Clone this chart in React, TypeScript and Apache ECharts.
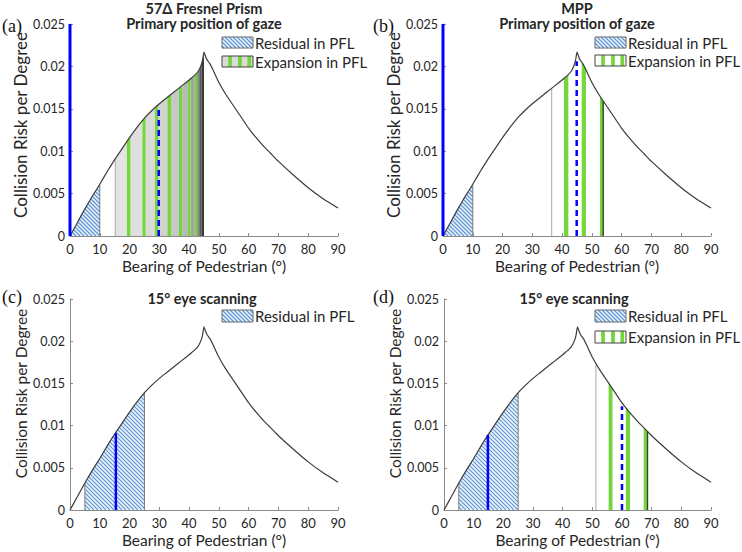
import { useEffect, useRef } from 'react';
import * as echarts from 'echarts';

// ---------- data ----------
const CURVE_X = [0, 2.5, 5, 7.5, 10, 12.5, 15, 17.5, 20, 22.5, 25, 27.5, 30, 32.5, 35, 37.5, 40, 41, 42, 43, 43.5, 44, 44.5, 45, 45.5, 46, 47, 48, 50, 52.5, 55, 57.5, 60, 62.5, 65, 67.5, 70, 75, 80, 85, 90];
const CURVE_Y = [0, 0.0016, 0.0032, 0.0047, 0.0061, 0.0076, 0.009, 0.0103, 0.0116, 0.0128, 0.0139, 0.0148, 0.0156, 0.0163, 0.017, 0.0177, 0.0184, 0.0187, 0.019, 0.0194, 0.0197, 0.0201, 0.0207, 0.0217, 0.0212, 0.0208, 0.0203, 0.0196, 0.0181, 0.0166, 0.0153, 0.014, 0.0127, 0.0116, 0.0106, 0.0097, 0.0088, 0.0072, 0.0057, 0.0044, 0.0033];

const RESIDUAL_A = [[0, 10]];
const RESIDUAL_B = [[0, 10]];
const RESIDUAL_C = [[5, 25]];
const RESIDUAL_D = [[5, 25]];

const PRISM_BANDS_A = [[15.2, 19.1], [20.3, 24.3], [25.4, 28.5], [29.6, 32.7], [34.0, 36.6], [37.7, 39.6], [40.5, 41.9], [42.7, 43.4], [43.4, 44.2], [44.2, 45]];
const STRIPES_A = [[19.1, 20.3], [24.3, 25.4], [28.5, 29.6], [32.7, 34.0], [36.6, 37.7], [39.6, 40.5], [41.9, 42.7]];
const STRIPES_B = [[40.6, 42.1], [46.6, 48.0], [52.7, 53.8]];
const STRIPES_D = [[55.5, 56.8], [61.3, 62.7], [67.3, 68.6]];

const EDGES_A = [15.2];
const EDGES_B = [36.5, 53.8];
const EDGES_D = [51.2, 68.6];

const AXIS_MARK_AB = [[0, 0], [0, 0.025]];
const GAZE_A = [[29.8, 0], [29.8, 0.0149]];
const GAZE_B = [[44.9, 0], [44.9, 0.0206]];
const GAZE_D = [[60, 0], [60, 0.0123]];
const FIX_C = [[15.4, 0], [15.4, 0.0091]];
const FIX_D = [[14.8, 0], [14.8, 0.0089]];

const X_TICK_STEP = 10;
const Y_TICK_STEP = 0.005;

const TITLE_A = '57Δ Fresnel Prism\nPrimary position of gaze';
const TITLE_B = 'MPP\nPrimary position of gaze';
const TITLE_CD = '15° eye scanning';
const LEGEND_RESIDUAL = 'Residual in PFL';
const LEGEND_EXPANSION = 'Expansion in PFL';

// ---------- styles ----------
const FONT = 'Lato, "Open Sans", sans-serif';
const GRAY_SHADES = ['#e4e4e4', '#dfdfdf', '#d9d9d9', '#d2d2d2', '#c7c7c7', '#b8b8b8', '#a4a4a4', '#888888', '#5a5a5a', '#3a3a3a'];
const EDGE_LEFT = '#a8a8a8';
const EDGE_RIGHT = '#3a3a3a';
const GREEN = '#74d63a';
const BLUE = '#0000ff';
const HATCH_BG = '#f0f5fb';
const HATCH_LINE = '#5f96d4';
const HATCH_STEP = 4;
const AXIS_COLOR = '#8a8a8a';
const TEXT_COLOR = '#262626';

const GRIDS = [
  { left: 70, top: 24, width: 268, height: 212 },
  { left: 443, top: 24, width: 268, height: 212 },
  { left: 70, top: 299, width: 268, height: 211 },
  { left: 444, top: 299, width: 267, height: 211 },
];
const Y_NAME_SIZE = [17, 17, 15.5, 15.5];
const Y_NAME_SHIFT = [10, 10, 22, 22];

function curveAt(x: number): number {
  for (let i = 0; i < CURVE_X.length - 1; i++) {
    if (x >= CURVE_X[i] && x <= CURVE_X[i + 1]) {
      const t = (x - CURVE_X[i]) / (CURVE_X[i + 1] - CURVE_X[i]);
      return CURVE_Y[i] + t * (CURVE_Y[i + 1] - CURVE_Y[i]);
    }
  }
  return 0;
}

function areaPoints(api: any, x0: number, x1: number) {
  const pts: number[][] = [api.coord([x0, 0]), api.coord([x0, curveAt(x0)])];
  for (let i = 0; i < CURVE_X.length; i++) {
    if (CURVE_X[i] > x0 && CURVE_X[i] < x1) pts.push(api.coord([CURVE_X[i], CURVE_Y[i]]));
  }
  pts.push(api.coord([x1, curveAt(x1)]), api.coord([x1, 0]));
  return pts;
}

function hatchLines(X0: number, X1: number, topFn: (px: number) => number, base: number) {
  const out: any[] = [];
  let tmin = Infinity;
  for (let px = X0; px <= X1; px += 0.5) tmin = Math.min(tmin, topFn(px));
  const kStart = Math.floor((tmin - X1) / HATCH_STEP) * HATCH_STEP;
  for (let k = kStart; k <= base - X0; k += HATCH_STEP) {
    let start: number | null = null;
    let last = 0;
    const push = () => {
      if (start !== null && last > start) {
        out.push({ type: 'line', silent: true, shape: { x1: start, y1: start + k, x2: last, y2: last + k }, style: { stroke: HATCH_LINE, lineWidth: 1.2 } });
      }
      start = null;
    };
    for (let px = X0; px <= X1 + 1e-6; px += 0.25) {
      const py = px + k;
      const inside = py >= topFn(px) && py <= base;
      if (inside) {
        if (start === null) start = px;
        last = px;
      } else if (start !== null) push();
    }
    push();
  }
  return out;
}

function bandSeries(p: number, data: number[][], fillFn: (i: number) => string) {
  return {
    type: 'custom', xAxisIndex: p, yAxisIndex: p, data, encode: { x: [0, 1] }, silent: true, z: 2, clip: false,
    renderItem: (params: any, api: any) => {
      const pts = areaPoints(api, api.value(0), api.value(1));
      return { type: 'polygon', shape: { points: pts }, style: { fill: fillFn(params.dataIndex), stroke: 'none' } };
    },
  };
}

function hatchSeries(p: number, data: number[][]) {
  return {
    type: 'custom', xAxisIndex: p, yAxisIndex: p, data, encode: { x: [0, 1] }, silent: true, z: 2, clip: false,
    renderItem: (params: any, api: any) => {
      const x0 = api.value(0), x1 = api.value(1);
      const pts = areaPoints(api, x0, x1);
      const P0 = api.coord([x0, 0]);
      const P1 = api.coord([x1, 0]);
      const topFn = (px: number) => {
        const d = x0 + ((px - P0[0]) / (P1[0] - P0[0])) * (x1 - x0);
        return api.coord([d, curveAt(d)])[1];
      };
      const children: any[] = [{ type: 'polygon', shape: { points: pts }, style: { fill: HATCH_BG, stroke: 'none' } }];
      hatchLines(P0[0], P1[0], topFn, P0[1]).forEach((l) => children.push(l));
      const edges = x0 > 0 ? [x0, x1] : [x1];
      edges.forEach((x) => {
        const a = api.coord([x, 0]);
        const b = api.coord([x, curveAt(x)]);
        children.push({ type: 'line', shape: { x1: a[0], y1: a[1], x2: b[0], y2: b[1] }, style: { stroke: '#7a7a7a', lineWidth: 1 } });
      });
      return { type: 'group', children };
    },
  };
}

function edgeSeries(p: number, data: number[]) {
  return {
    type: 'custom', xAxisIndex: p, yAxisIndex: p, data: data.map((x) => [x]), encode: { x: [0] }, silent: true, z: 3, clip: false,
    renderItem: (params: any, api: any) => {
      const x = api.value(0);
      const a = api.coord([x, 0]);
      const b = api.coord([x, curveAt(x)]);
      const right = params.dataIndex === data.length - 1 && data.length > 1;
      return { type: 'line', shape: { x1: a[0], y1: a[1], x2: b[0], y2: b[1] }, style: { stroke: right ? EDGE_RIGHT : EDGE_LEFT, lineWidth: right ? 1.4 : 1 } };
    },
  };
}

function curveSeries(p: number) {
  return {
    type: 'line', xAxisIndex: p, yAxisIndex: p, data: CURVE_X.map((x, i) => [x, CURVE_Y[i]]),
    showSymbol: false, symbol: 'none', silent: true, z: 5, smooth: 0.15,
    lineStyle: { color: '#3c3c3c', width: 1.2 },
  };
}

function blueLine(p: number, data: number[][], width: number, dashed: boolean) {
  return {
    type: 'line', xAxisIndex: p, yAxisIndex: p, data, showSymbol: false, symbol: 'none', silent: true, z: 6, clip: false,
    lineStyle: { color: BLUE, width, type: dashed ? [6, 4] : 'solid', cap: 'butt' },
  };
}

function legendHatchBox(x: number, y: number, w: number, h: number) {
  const children: any[] = [{ type: 'rect', shape: { x, y, width: w, height: h }, style: { fill: HATCH_BG } }];
  hatchLines(x, x + w, () => y, y + h).forEach((l) => children.push(l));
  children.push({ type: 'rect', shape: { x, y, width: w, height: h }, style: { fill: 'none', stroke: '#6a6a6a', lineWidth: 1 } });
  return { type: 'group', silent: true, children };
}

function legendStripeBox(x: number, y: number, w: number, h: number, bg: string) {
  const children: any[] = [{ type: 'rect', shape: { x, y, width: w, height: h }, style: { fill: bg } }];
  [[0.2, 0.32], [0.52, 0.64], [0.82, 0.94]].forEach(([a, b]) => {
    children.push({ type: 'rect', shape: { x: x + a * w, y, width: (b - a) * w, height: h }, style: { fill: GREEN } });
  });
  children.push({ type: 'rect', shape: { x, y, width: w, height: h }, style: { fill: 'none', stroke: '#444', lineWidth: 1 } });
  return { type: 'group', silent: true, children };
}

function label(text: string, x: number, y: number, opts: any = {}) {
  return {
    type: 'text', x, y, silent: true,
    style: { text, fill: TEXT_COLOR, fontSize: 15, fontFamily: FONT, align: 'left', verticalAlign: 'middle', ...opts },
  };
}

export default function App() {
  const ref = useRef<HTMLDivElement>(null);
  useEffect(() => {
    if (!ref.current) return;
    const chart = echarts.init(ref.current, undefined, { renderer: 'svg' });

    const xAxes = GRIDS.map((_, i) => ({
      gridIndex: i, type: 'value', min: 0, max: 90, interval: X_TICK_STEP,
      axisLine: { show: true, lineStyle: { color: AXIS_COLOR, width: 1 } },
      axisTick: { show: true, inside: true, length: 3, lineStyle: { color: AXIS_COLOR } },
      axisLabel: { color: TEXT_COLOR, fontSize: 13, fontFamily: FONT, margin: 6 },
      splitLine: { show: false },
      name: 'Bearing of Pedestrian (°)', nameLocation: 'middle', nameGap: 22,
      nameTextStyle: { color: TEXT_COLOR, fontSize: 15.5, fontFamily: FONT },
    }));
    const yAxes = GRIDS.map((_, i) => ({
      gridIndex: i, type: 'value', min: 0, max: 0.025, interval: Y_TICK_STEP,
      axisLine: { show: true, lineStyle: { color: AXIS_COLOR, width: 1 } },
      axisTick: { show: true, inside: true, length: 3, lineStyle: { color: AXIS_COLOR } },
      axisLabel: { color: TEXT_COLOR, fontSize: 12.5, fontFamily: FONT, margin: 5, formatter: (v: number) => String(parseFloat(v.toFixed(3))) },
      splitLine: { show: false },
      name: 'Collision Risk per Degree', nameLocation: 'middle', nameGap: 40,
      nameTextStyle: { color: TEXT_COLOR, fontSize: Y_NAME_SIZE[i], fontFamily: FONT, padding: [0, 0, 0, Y_NAME_SHIFT[i]] },
    }));

    const series: any[] = [
      // (a)
      bandSeries(0, PRISM_BANDS_A, (i) => GRAY_SHADES[i]),
      bandSeries(0, STRIPES_A, () => GREEN),
      hatchSeries(0, RESIDUAL_A),
      edgeSeries(0, EDGES_A),
      curveSeries(0),
      blueLine(0, AXIS_MARK_AB, 3, false),
      blueLine(0, GAZE_A, 2.5, true),
      // (b)
      bandSeries(1, STRIPES_B, () => GREEN),
      hatchSeries(1, RESIDUAL_B),
      edgeSeries(1, EDGES_B),
      curveSeries(1),
      blueLine(1, AXIS_MARK_AB, 3, false),
      blueLine(1, GAZE_B, 2.5, true),
      // (c)
      hatchSeries(2, RESIDUAL_C),
      curveSeries(2),
      blueLine(2, FIX_C, 2.5, false),
      // (d)
      bandSeries(3, STRIPES_D, () => GREEN),
      hatchSeries(3, RESIDUAL_D),
      edgeSeries(3, EDGES_D),
      curveSeries(3),
      blueLine(3, FIX_D, 2.5, false),
      blueLine(3, GAZE_D, 2.5, true),
    ];

    const bold = { fontWeight: 'bold', fontSize: 14.5, align: 'center', lineHeight: 15.5 };
    const serif = { fontFamily: '"Liberation Serif", "DejaVu Serif", serif', fontSize: 18, fill: '#111' };
    const graphic: any[] = [
      label(TITLE_A, 204, 16, bold),
      label(TITLE_B, 577, 16, bold),
      label(TITLE_CD, 202, 298, bold),
      label(TITLE_CD, 574, 298, bold),
      label('(a)', 2, 26, serif),
      label('(b)', 373, 26, serif),
      label('(c)', 2, 297, serif),
      label('(d)', 373, 297, serif),
      // legends
      legendHatchBox(222, 37, 31, 11),
      label(LEGEND_RESIDUAL, 255, 43),
      legendStripeBox(222, 56, 31, 11, '#dadada'),
      label(LEGEND_EXPANSION, 255, 62),
      legendHatchBox(595, 37, 31, 11),
      label(LEGEND_RESIDUAL, 628, 43),
      legendStripeBox(595, 55, 31, 11, '#ffffff'),
      label(LEGEND_EXPANSION, 628, 61),
      legendHatchBox(222, 310, 31, 12),
      label(LEGEND_RESIDUAL, 255, 316),
      legendHatchBox(595, 310, 31, 12),
      label(LEGEND_RESIDUAL, 628, 316),
      legendStripeBox(595, 331, 31, 12, '#ffffff'),
      label(LEGEND_EXPANSION, 628, 337),
    ];

    chart.setOption({
      animation: false,
      backgroundColor: '#ffffff',
      textStyle: { fontFamily: FONT },
      grid: GRIDS,
      xAxis: xAxes,
      yAxis: yAxes,
      series,
      graphic,
    });
    return () => chart.dispose();
  }, []);
  return <div ref={ref} style={{ position: 'fixed', left: 0, top: 0, width: 742, height: 552 }} />;
}
